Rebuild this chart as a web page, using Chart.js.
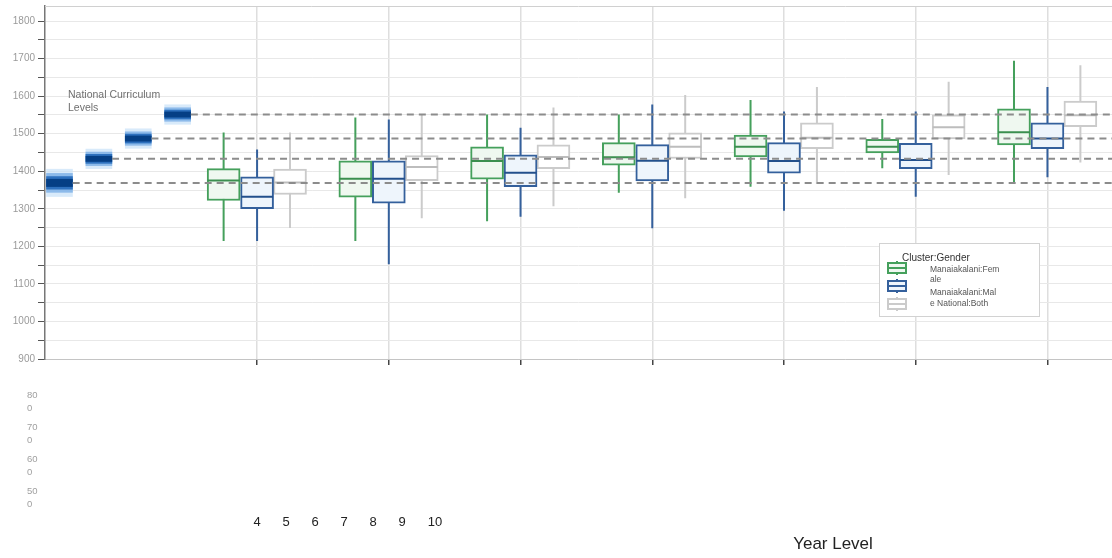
<!DOCTYPE html>
<html>
<head>
<meta charset="utf-8">
<title>Scale scores by Year Level</title>
<script src="https://cdn.jsdelivr.net/npm/chart.js@4.4.1/dist/chart.umd.min.js"></script>
<style>
  body { margin: 0; background: #fff; }
  #wrap { width: 1112px; height: 558px; position: relative; }
</style>
</head>
<body>
<div id="wrap"><canvas id="myChart"></canvas></div>
<script>
// year levels (x axis)
const years = [4, 5, 6, 7, 8, 9, 10];

// five number summary for each year: [low, q1, median, q3, high]
const femaleStats = [
    [1214, 1322, 1375, 1407, 1503],
    [1214, 1331, 1380, 1428, 1543],
    [1267, 1379, 1427, 1465, 1551],
    [1343, 1416, 1437, 1476, 1551],
    [1359, 1438, 1465, 1496, 1590],
    [1408, 1449, 1465, 1485, 1539],
    [1371, 1470, 1504, 1566, 1694]
];
const maleStats = [
    [1214, 1300, 1332, 1385, 1458],
    [1152, 1315, 1380, 1428, 1538],
    [1279, 1359, 1396, 1444, 1516],
    [1248, 1374, 1428, 1471, 1578],
    [1295, 1395, 1427, 1476, 1559],
    [1332, 1407, 1430, 1474, 1559],
    [1384, 1460, 1487, 1529, 1624]
];
const nationalStats = [
    [1249, 1338, 1370, 1406, 1503],
    [1275, 1375, 1411, 1442, 1552],
    [1307, 1407, 1438, 1470, 1570],
    [1328, 1434, 1465, 1502, 1603],
    [1366, 1460, 1489, 1529, 1624],
    [1390, 1486, 1517, 1550, 1638],
    [1423, 1519, 1549, 1587, 1682]
];

// national curriculum level cut scores
const ncLevels = [1369, 1433, 1487, 1551];

// tick labels
const yTickValues = [900, 950, 1000, 1050, 1100, 1150, 1200, 1250, 1300, 1350, 1400,
    1450, 1500, 1550, 1600, 1650, 1700, 1750, 1800];
const lowTickLabels = ['800', '700', '600', '500'];
const xTickLabels = ['4', '5', '6', '7', '8', '9', '10'];
const legendTitle = 'Cluster:Gender';
const legendLines = ['Manaiakalani:Fem', 'ale', 'Manaiakalani:Mal', 'e National:Both'];

const FONT = '"Liberation Sans", Arial, sans-serif';
const X_MIN = 2.39, X_MAX = 10.49;

// series look
const seriesStyle = [
    {stats: femaleStats, offset: -0.254, stroke: '#45a05c', fill: '#eff8f0', median: '#3b8f4f'},
    {stats: maleStats, offset: 0, stroke: '#34609c', fill: '#eef5fc', median: '#23508c'},
    {stats: nationalStats, offset: 0.25, stroke: '#cbcbcb', fill: '#ffffff', median: '#bdbdbd'}
];

function ncX(i) {
    return 2.5 + 0.299 * i;
}

let datasets = [];

// box plots built from floating bars, lines and line-shaped points
seriesStyle.forEach(function (s) {
    let whisker = [];
    years.forEach(function (yr, i) {
        whisker.push({x: yr + s.offset, y: s.stats[i][0]});
        whisker.push({x: yr + s.offset, y: s.stats[i][4]});
        whisker.push({x: yr + s.offset, y: null});
    });
    datasets.push({
        type: 'line', data: whisker, borderColor: s.stroke, borderWidth: 2,
        pointRadius: 0, spanGaps: false, order: 6
    });
    datasets.push({
        type: 'bar',
        data: years.map((yr, i) => ({x: yr + s.offset, y: [s.stats[i][1], s.stats[i][3]]})),
        backgroundColor: s.fill, borderColor: s.stroke, borderWidth: 2,
        borderSkipped: false, barThickness: 33, grouped: false, order: 5
    });
    datasets.push({
        type: 'line', showLine: false,
        data: years.map((yr, i) => ({x: yr + s.offset, y: s.stats[i][2]})),
        pointStyle: 'line', pointRadius: 16, pointBorderWidth: 2,
        pointBorderColor: s.median, pointBackgroundColor: s.median, order: 4
    });
});

// blurred level markers on the left (outer glow first, dark core on top)
const glow = [
    {half: 26, color: 'rgba(200,225,248,0.7)'},
    {half: 18, color: 'rgba(115,170,228,0.75)'},
    {half: 12, color: 'rgba(35,105,185,0.9)'},
    {half: 7, color: '#053f85'}
];
glow.forEach(function (g, k) {
    datasets.push({
        type: 'bar',
        data: ncLevels.map((v, i) => {
            const h = i === 0 ? g.half * 1.4 : g.half;
            return {x: ncX(i), y: [v - h, v + h]};
        }),
        backgroundColor: g.color, borderWidth: 0, barThickness: 26,
        grouped: false, order: 3.5 - k * 0.1
    });
});

// dashed level lines
ncLevels.forEach(function (v, i) {
    datasets.push({
        type: 'line',
        data: [{x: ncX(i) + 0.1, y: v}, {x: X_MAX, y: v}],
        borderColor: '#8c8c8c', borderWidth: 2, borderDash: [7, 5],
        pointRadius: 0, order: 0
    });
});

// extra texts and legend
const extras = {
    id: 'extras',
    afterDraw(chart) {
        const ctx = chart.ctx;
        const area = chart.chartArea;
        ctx.save();

        ctx.strokeStyle = '#d0d0d0';
        ctx.lineWidth = 1;
        ctx.beginPath();
        ctx.moveTo(area.left, area.top + 0.5);
        ctx.lineTo(area.right, area.top + 0.5);
        ctx.stroke();

        ctx.fillStyle = '#6f6f6f';
        ctx.font = '10.5px ' + FONT;
        ctx.textBaseline = 'middle';
        ctx.textAlign = 'left';
        ctx.fillText('National Curriculum', 68, 95);
        ctx.fillText('Levels', 68, 108);

        // wrapped tick labels under the axis
        ctx.fillStyle = '#a0a0a0';
        ctx.font = '9.5px ' + FONT;
        lowTickLabels.forEach(function (t, i) {
            ctx.fillText(t.slice(0, 2), 27, 395 + 32 * i);
            ctx.fillText(t.slice(2), 27, 408 + 32 * i);
        });

        ctx.fillStyle = '#222';
        ctx.font = '13px ' + FONT;
        ctx.textAlign = 'center';
        xTickLabels.forEach(function (t, i) {
            ctx.fillText(t, 257 + 29 * i + (i === 6 ? 4 : 0), 522);
        });
        ctx.font = '17px ' + FONT;
        ctx.fillText('Year Level', 833, 544);

        // legend
        ctx.fillStyle = '#fff';
        ctx.fillRect(879.5, 243.5, 160, 73);
        ctx.strokeStyle = '#d2d2d2';
        ctx.strokeRect(879.5, 243.5, 160, 73);
        ctx.fillStyle = '#333';
        ctx.font = '10px ' + FONT;
        ctx.textAlign = 'left';
        ctx.fillText(legendTitle, 902, 258);
        seriesStyle.forEach(function (s, i) {
            const top = 263 + 18 * i;
            ctx.strokeStyle = s.stroke;
            ctx.lineWidth = 2;
            ctx.fillStyle = s.fill;
            ctx.fillRect(888, top, 18, 10);
            ctx.strokeRect(888, top, 18, 10);
            ctx.beginPath();
            ctx.moveTo(888, top + 5);
            ctx.lineTo(906, top + 5);
            ctx.moveTo(897, top - 2);
            ctx.lineTo(897, top);
            ctx.moveTo(897, top + 10);
            ctx.lineTo(897, top + 12);
            ctx.stroke();
        });
        ctx.fillStyle = '#555';
        ctx.font = '8.5px ' + FONT;
        legendLines.forEach(function (t, i) {
            ctx.fillText(t, 930, [270, 280, 293, 304][i]);
        });
        ctx.restore();
    }
};

const ctx = document.getElementById('myChart').getContext('2d');
const myChart = new Chart(ctx, {
    data: {datasets: datasets},
    options: {
        responsive: true,
        maintainAspectRatio: false,
        animation: false,
        layout: {autoPadding: false, padding: {top: 6, right: 0, left: 0, bottom: 0}},
        plugins: {legend: {display: false}, tooltip: {enabled: false}},
        scales: {
            x: {
                type: 'linear', min: X_MIN, max: X_MAX, offset: false,
                afterBuildTicks: (scale) => { scale.ticks = years.map(v => ({value: v})); },
                afterFit: (scale) => {
                    scale.height = 199;
                    scale.paddingLeft = 0;
                    scale.paddingRight = 0;
                },
                ticks: {display: false},
                grid: {offset: false, color: '#dedede', lineWidth: 1.5, tickColor: '#444', tickLength: 6},
                border: {color: '#c4c4c4', width: 1}
            },
            y: {
                type: 'linear', min: 900, max: 1840,
                afterBuildTicks: (scale) => { scale.ticks = yTickValues.map(v => ({value: v})); },
                afterFit: (scale) => {
                    scale.width = 45;
                    scale.paddingTop = 0;
                    scale.paddingBottom = 0;
                },
                ticks: {
                    color: '#9a9a9a', padding: 3,
                    font: {size: 10, family: FONT},
                    callback: (v) => (v % 100 === 0 ? String(v) : '')
                },
                grid: {color: '#e8e8e8', lineWidth: 1, tickColor: '#555', tickLength: 7},
                border: {color: '#777', width: 1.5}
            }
        }
    },
    plugins: [extras]
});
</script>
</body>
</html>
